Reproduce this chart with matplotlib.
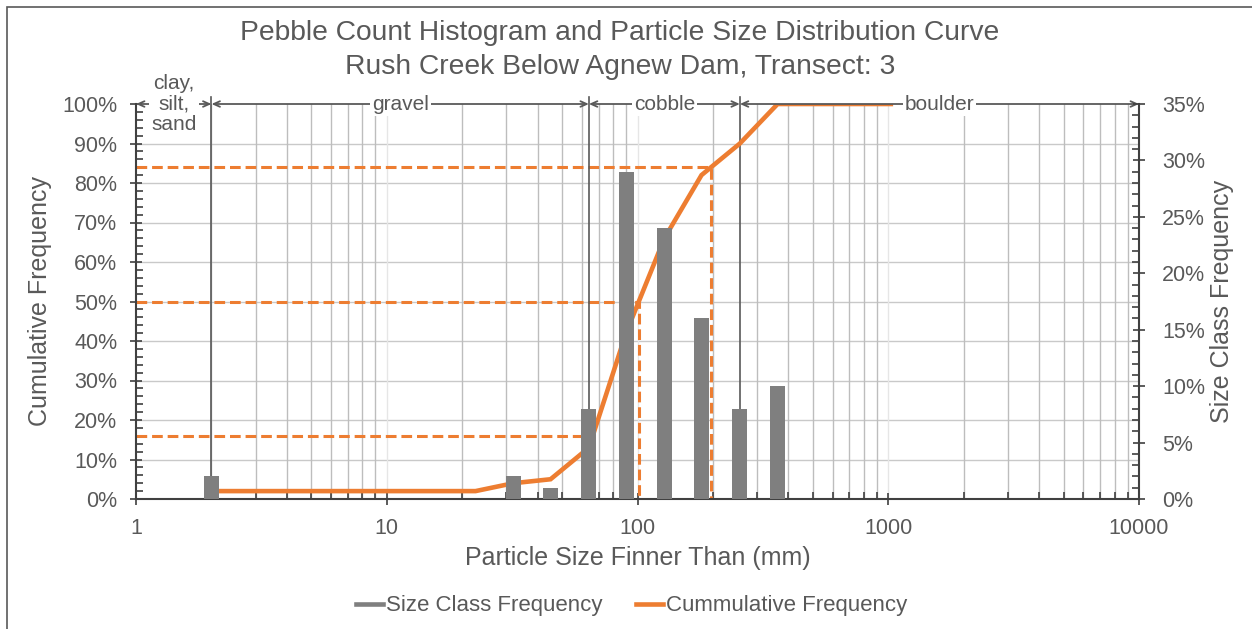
import numpy as np
import matplotlib
matplotlib.use("Agg")
import matplotlib.pyplot as plt
from matplotlib.patches import Rectangle
from matplotlib.ticker import FixedLocator, NullFormatter, LogLocator

plt.rcParams["font.family"] = ["Liberation Sans", "DejaVu Sans"]

# size classes (mm) and frequencies
sizes = [2, 2.8, 4, 5.6, 8, 11.3, 16, 22.6, 32, 45, 64, 90, 128, 180, 256, 362, 512, 724, 1024]
class_freq = [2, 0, 0, 0, 0, 0, 0, 0, 2, 1, 8, 29, 24, 16, 8, 10, 0, 0, 0]
cum_freq = [2, 2, 2, 2, 2, 2, 2, 2, 4, 5, 13, 42, 66, 82, 90, 100, 100, 100, 100]

# D16, D50, D84 guide lines
pct_levels = [16, 50, 84]
pct_sizes = [66, 101, 197]

# size class divisions
class_bounds = [1, 2, 64, 256, 10000]
class_names = ["clay,\nsilt,\nsand", "gravel", "cobble", "boulder"]

title = "Pebble Count Histogram and Particle Size Distribution Curve\nRush Creek Below Agnew Dam, Transect: 3"

TXT = "#595959"
ORANGE = "#ED7D31"
GREY = "#7F7F7F"
AXC = "#404040"

fig = plt.figure(figsize=(12.52, 6.29), dpi=100)
ax = fig.add_axes([136 / 1252, 1 - 499 / 629, 1003 / 1252, 395 / 629])
ax2 = ax.twinx()

# chart border (only top/left visible in the crop)
fig.add_artist(Rectangle((7 / 1252, -0.1), 1.2, 1 - 7 / 629 + 0.1, transform=fig.transFigure,
                         fill=False, edgecolor=TXT, lw=1.2))

ax.set_xscale("log")
ax.set_xlim(1, 10000)
ax.set_ylim(0, 100)
ax2.set_ylim(0, 35)

# grid
for v in range(10, 100, 10):
    ax.axhline(v, color="#c9c9c9", lw=1.0, zorder=0)
for dec in [1, 10, 100, 1000]:
    for m in range(2, 10):
        ax.axvline(dec * m, color="#bdbdbd", lw=1.0, zorder=0)
for dec in [10, 100, 1000]:
    ax.axvline(dec, color="#e6e6e6", lw=1.0, zorder=0)

# percentile guide lines
for p, d in zip(pct_levels, pct_sizes):
    ax.plot([1, d, d], [p, p, 0], color=ORANGE, lw=2.2, ls=(0, (3.5, 1.6)), zorder=2)

# class divider lines
for b in class_bounds[1:-1]:
    ax.plot([b, b], [0, 101.8], color=TXT, lw=1.2, zorder=2, clip_on=False)

# class range arrows and labels
for lo, hi, name in zip(class_bounds[:-1], class_bounds[1:], class_names):
    ax.annotate("", xy=(hi, 100), xytext=(lo, 100),
                arrowprops=dict(arrowstyle="<->,head_length=0.45,head_width=0.2",
                                color=TXT, lw=1.3, shrinkA=0, shrinkB=0),
                zorder=5, annotation_clip=False)
    ax2.text(np.sqrt(lo * hi), 35, name, ha="center", va="center", fontsize=15,
             color=TXT, linespacing=1.1, zorder=6,
             bbox=dict(facecolor="white", edgecolor="none", pad=1.5))

# cumulative curve
ax.plot(sizes, cum_freq, color=ORANGE, lw=3.3, solid_joinstyle="miter", zorder=3,
        label="Cummulative Frequency")

# histogram bars (constant width in log space)
half = 7.5 / 251
lefts = [s * 10 ** (-half) for s in sizes]
widths = [s * (10 ** half - 10 ** (-half)) for s in sizes]
ax2.bar(lefts, class_freq, width=widths, align="edge", color=GREY, zorder=4)

# axes styling
ax.spines["top"].set_visible(False)
ax2.spines["top"].set_visible(False)
ax.spines["right"].set_visible(False)
ax2.spines["left"].set_visible(False)
ax2.spines["bottom"].set_visible(False)
for sp in ("left", "bottom"):
    ax.spines[sp].set_color(AXC)
    ax.spines[sp].set_linewidth(1.5)
ax2.spines["right"].set_color(AXC)
ax2.spines["right"].set_linewidth(1.5)

ax.xaxis.set_major_locator(FixedLocator([1, 10, 100, 1000, 10000]))
ax.xaxis.set_minor_locator(LogLocator(base=10, subs=np.arange(2, 10)))
ax.xaxis.set_minor_formatter(NullFormatter())
ax.set_xticklabels(["1", "10", "100", "1000", "10000"])
ax.set_yticks(range(0, 101, 10))
ax.set_yticks(range(0, 101, 2), minor=True)
ax.set_yticklabels([f"{v}%" for v in range(0, 101, 10)])
ax2.set_yticks(range(0, 36, 5))
ax2.set_yticks(range(0, 36, 1), minor=True)
ax2.set_yticklabels([f"{v}%" for v in range(0, 36, 5)])

ax.tick_params(axis="both", which="major", direction="inout", length=9, width=1.2,
               color=AXC, labelsize=15.5, labelcolor=TXT)
ax.tick_params(axis="y", which="major", pad=9)
ax.tick_params(axis="x", which="major", pad=9)
ax.tick_params(axis="both", which="minor", direction="in", length=5, width=1.2, color=AXC)
ax2.tick_params(axis="y", which="major", direction="inout", length=9, width=1.2,
                color=AXC, labelsize=15.5, labelcolor=TXT, pad=12)
ax2.tick_params(axis="y", which="minor", direction="in", length=5, width=1.2, color=AXC)

ax.set_ylabel("Cumulative Frequency", fontsize=18, color=TXT, va="center")
ax.yaxis.set_label_coords(-0.096, 0.5)
ax2.set_ylabel("Size Class Frequency", fontsize=18, color=TXT, va="center")
ax2.yaxis.set_label_coords(1.083, 0.5)
ax.set_xlabel("Particle Size Finner Than (mm)", fontsize=18, color=TXT, va="center")
ax.xaxis.set_label_coords(0.5, -0.149)

fig.text(620 / 1252, 1 - 50 / 629, title, ha="center", va="center", fontsize=20.3,
         color=TXT, linespacing=1.36)

# legend
h_bar = plt.Line2D([], [], color=GREY, lw=3.3)
h_cum = plt.Line2D([], [], color=ORANGE, lw=3.3)
fig.legend([h_bar, h_cum], ["Size Class Frequency", "Cummulative Frequency"],
           loc="center", bbox_to_anchor=(632 / 1252, 1 - 606 / 629), ncol=2,
           frameon=False, fontsize=16, labelcolor=TXT, handlelength=1.2,
           handletextpad=0.15, columnspacing=1.5)

fig.savefig("out.png", dpi=100)
